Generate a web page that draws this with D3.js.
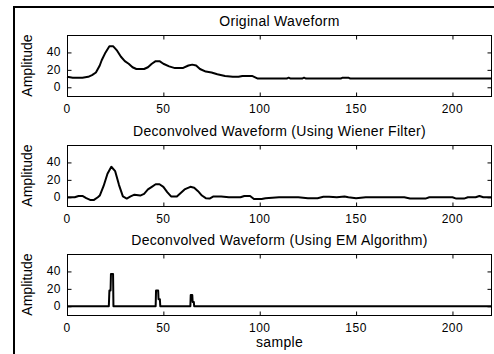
<!DOCTYPE html>
<html>
<head>
<meta charset="utf-8">
<script src="https://cdn.jsdelivr.net/npm/d3@7"></script>
<style>
  body { margin: 0; background: #fff; }
  text { font-family: "Liberation Sans", Arial, sans-serif; fill: #000; }
</style>
</head>
<body>
<div id="chart"></div>
<script>
//***************** data *******************/
var titles = ["Original Waveform",
              "Deconvolved Waveform (Using Wiener Filter)",
              "Deconvolved Waveform (Using EM Algorithm)"];
var xTicks = [0, 50, 100, 150, 200];
var yTicks = [0, 20, 40];

// original waveform (sample, amplitude)
var origX = [0, 3, 8, 11, 13, 15, 17, 18, 20, 22, 24, 26, 28, 30, 32, 34, 36, 40, 42, 44, 46, 48, 50, 53, 56, 60, 63, 65, 67, 69, 72, 75, 78, 82, 86, 89, 91, 96, 99, 114, 115, 116, 122, 123, 124, 142, 143, 146, 147, 220];
var origY = [12, 11, 11, 12, 14, 17, 25, 31, 40, 47, 47, 42, 35, 30, 27, 23, 21, 21, 23, 27, 30, 30, 27, 24, 22, 22, 25, 26, 25, 21, 18, 17, 15, 13, 12, 12, 13, 13, 10, 10, 11, 10, 10, 11, 10, 10, 11, 11, 10, 10];

// wiener filter result
var wienerX = [0, 4, 6, 8, 10, 12, 14, 16, 17, 19, 21, 23, 25, 27, 29, 31, 33, 35, 38, 40, 42, 44, 46, 48, 50, 52, 54, 57, 59, 61, 64, 66, 68, 70, 72, 74, 76, 80, 84, 90, 92, 95, 97, 101, 103, 110, 120, 125, 130, 133, 136, 140, 144, 146, 150, 155, 175, 178, 186, 188, 200, 202, 206, 208, 212, 214, 216, 220];
var wienerY = [0, 0, 1.5, 1.5, -1, -3, -3, 0, 2, 13, 27, 35, 30, 14, 1, -1.5, 1, 3, 2, 4, 9, 12, 15, 15, 12, 6, 1, 1, 5, 9, 12, 11, 7, 2, -1, -1.5, 1, 1, 0, 0, 1.5, 1.5, -2, -2, -1, 0, 0, -1, -1, 0.5, 0.5, 0, 1, 0, -1, 0, 0, -1.5, -1.5, 0, 0, -1.5, -1.5, 0, 0, 1.5, 0, 0];

// EM algorithm result (sparse spikes)
var emX = [0, 21.7, 22, 22.6, 22.8, 23.9, 24.1, 46, 46.2, 47.3, 47.5, 48.2, 48.4, 64, 64.2, 65, 65.2, 65.8, 66, 220];
var emY = [0, 0, 18, 18, 37, 37, 0, 0, 18, 18, 8, 8, 0, 0, 13, 13, 5, 5, 0, 0];

var series = [
  d3.zip(origX, origY),
  d3.zip(wienerX, wienerY),
  d3.zip(emX, emY)
];

//************* set dimensions ***************/
var W = 494, H = 354;
var left = 67, right = 492;
var tops = [35, 145, 254], plotH = 61;

var svg = d3.select("#chart")
  .append("svg")
    .attr("width", W)
    .attr("height", H);

// window frame (top and left edge)
svg.append("path")
  .attr("d", "M14,354 L14,7 L494,7")
  .attr("fill", "none")
  .attr("stroke", "#000")
  .attr("stroke-width", 2);

var x = d3.scaleLinear().domain([0, 220]).range([left, right - 1]);

series.forEach(function(data, i) {
  var top = tops[i];
  var y = d3.scaleLinear().domain([-10, 60]).range([top + plotH, top]);
  var g = svg.append("g");

  // box
  g.append("rect")
    .attr("x", left + 0.5).attr("y", top + 0.5)
    .attr("width", right - left - 1).attr("height", plotH)
    .attr("fill", "none").attr("stroke", "#000");

  // inward ticks, all four sides
  g.append("g")
    .attr("transform", "translate(0," + (top + plotH + 0.5) + ")")
    .call(d3.axisTop(x).tickValues(xTicks).tickSize(4).tickFormat(""))
    .call(function(a) { a.select(".domain").remove(); });
  g.append("g")
    .attr("transform", "translate(0," + (top + 0.5) + ")")
    .call(d3.axisBottom(x).tickValues(xTicks).tickSize(4).tickFormat(""))
    .call(function(a) { a.select(".domain").remove(); });
  g.append("g")
    .attr("transform", "translate(" + (left + 0.5) + ",0)")
    .call(d3.axisRight(y).tickValues(yTicks).tickSize(4).tickFormat(""))
    .call(function(a) { a.select(".domain").remove(); });
  g.append("g")
    .attr("transform", "translate(" + (right - 0.5) + ",0)")
    .call(d3.axisLeft(y).tickValues(yTicks).tickSize(4).tickFormat(""))
    .call(function(a) { a.select(".domain").remove(); });

  // tick labels
  g.selectAll(".xl").data(xTicks).enter().append("text")
    .attr("x", function(d) { return x(d); })
    .attr("y", top + plotH + 17)
    .attr("text-anchor", "middle")
    .style("font-size", "12px")
    .style("letter-spacing", "0.5px")
    .text(function(d) { return d; });
  g.selectAll(".yl").data(yTicks).enter().append("text")
    .attr("x", left - 6)
    .attr("y", function(d) { return y(d) + 4; })
    .attr("text-anchor", "end")
    .style("font-size", "12px")
    .style("letter-spacing", "0.5px")
    .text(function(d) { return d; });

  // title
  g.append("text")
    .attr("x", (left + right) / 2)
    .attr("y", top - 9)
    .attr("text-anchor", "middle")
    .style("font-size", "14px")
    .style("letter-spacing", "0.3px")
    .text(titles[i]);

  // y label
  g.append("text")
    .attr("transform", "translate(32," + (top + plotH / 2) + ") rotate(-90)")
    .attr("text-anchor", "middle")
    .style("font-size", "14px")
    .text("Amplitude");

  // waveform
  var line = d3.line()
    .x(function(d) { return x(d[0]); })
    .y(function(d) { return y(d[1]); });
  g.append("path")
    .datum(data)
    .attr("d", line)
    .attr("fill", "none")
    .attr("stroke", "#000")
    .attr("stroke-width", 2)
    .attr("stroke-linejoin", "round");
});

svg.append("text")
  .attr("x", (left + right) / 2)
  .attr("y", tops[2] + plotH + 32)
  .attr("text-anchor", "middle")
  .style("font-size", "14px")
  .style("letter-spacing", "0.3px")
  .text("sample");
</script>
</body>
</html>
